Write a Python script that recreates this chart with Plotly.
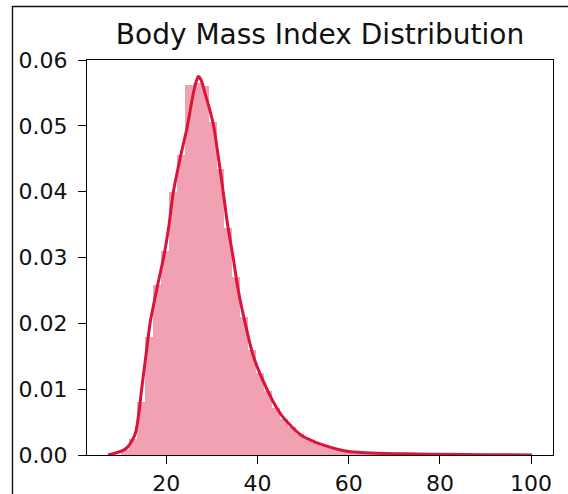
import numpy as np
import plotly.graph_objects as go

# Histogram (density) : 50 bins starting at 10.0, width 1.75
bin_start = 10.0
bin_width = 1.75
hist_density = [
    0.0007, 0.0025, 0.0080, 0.0180, 0.0258, 0.0310, 0.0400, 0.0455, 0.0562, 0.0565,
    0.0560, 0.0506, 0.0435, 0.0345, 0.0270, 0.0210, 0.0160, 0.0125, 0.0097, 0.0072,
    0.0055, 0.0042, 0.0032, 0.0024, 0.0018, 0.0014, 0.0011, 0.0008, 0.0006, 0.0005,
    0.0004, 0.0003, 0.0003, 0.0002, 0.0002, 0.00015, 0.00012, 0.0001, 0.0001, 0.00009,
    0.00008, 0.00007, 0.00006, 0.00005, 0.00005, 0.00004, 0.00004, 0.00003, 0.00003, 0.00003,
]

# KDE curve
kde_x = [7.2, 8.9, 10.5, 11.5, 12.5, 13.3, 14.0, 14.6, 15.5, 16.5, 18.0, 19.4, 20.5,
         21.5, 23.0, 24.6, 25.8, 26.5, 27.0, 27.6, 28.5, 29.5, 30.4, 31.5, 32.5, 33.5,
         34.7, 35.7, 37.2, 39.0, 40.5, 42.0, 43.5, 45.2, 47.5, 49.6, 52.5, 55.4, 58.0,
         60.4, 65.0, 70.0, 75.0, 80.0, 90.0, 100.2]
kde_y = [0.0000, 0.0003, 0.0007, 0.0012, 0.0022, 0.0035, 0.0065, 0.0101, 0.0150, 0.0203,
         0.0255, 0.0300, 0.0345, 0.0398, 0.0450, 0.0499, 0.0545, 0.0566, 0.0575, 0.0570,
         0.0549, 0.0525, 0.0499, 0.0448, 0.0398, 0.0347, 0.0298, 0.0253, 0.0203, 0.0152,
         0.0124, 0.0101, 0.0080, 0.0061, 0.0043, 0.0030, 0.0020, 0.0013, 0.0008, 0.0005,
         0.0003, 0.0002, 0.00015, 0.0001, 0.00005, 0.0]

x_ticks = [20, 40, 60, 80, 100]
y_ticks = [0.00, 0.01, 0.02, 0.03, 0.04, 0.05, 0.06]
y_ticktext = ["0.00", "0.01", "0.02", "0.03", "0.04", "0.05", "0.06"]
title_text = "Body Mass Index Distribution"

centers = bin_start + bin_width * (np.arange(len(hist_density)) + 0.5)

fig = go.Figure()
fig.add_trace(go.Bar(
    x=centers, y=hist_density, width=bin_width,
    marker=dict(color="rgba(220,20,60,0.4)", line=dict(width=0)),
    showlegend=False, hoverinfo="skip",
))
fig.add_trace(go.Scatter(
    x=kde_x, y=kde_y, mode="lines",
    line=dict(color="#DC143C", width=3, shape="spline", smoothing=0.6),
    showlegend=False,
))

font = "DejaVu Sans, Arial, sans-serif"
axis_common = dict(
    showgrid=False, zeroline=False, showline=True, linecolor="black", linewidth=1.2,
    mirror=True, ticks="outside", ticklen=8, tickwidth=1.2, tickcolor="black",
    tickfont=dict(family=font, size=22, color="#111"), automargin=False,
)
fig.update_layout(
    width=568, height=494,
    margin=dict(l=87, r=15, t=60, b=39, autoexpand=False),
    paper_bgcolor="white", plot_bgcolor="white",
    bargap=0,
    title=dict(text=title_text, x=0.5, xref="paper", xanchor="center",
               y=1 - 33.7 / 494, yref="container", yanchor="middle",
               font=dict(family=font, size=28, color="#111")),
    xaxis=dict(range=[2.6, 104.8], tickvals=x_ticks, ticklabelstandoff=0, **axis_common),
    yaxis=dict(range=[0, 0.06], tickvals=y_ticks, ticktext=y_ticktext,
               ticklabelstandoff=6, **axis_common),
    shapes=[dict(type="path", xref="paper", yref="paper",
                 path="M -0.1599,-0.12 L -0.1599,1.1354 L 1.05,1.1354",
                 line=dict(color="#111", width=1.4))],
)
fig.write_html("out.html")
